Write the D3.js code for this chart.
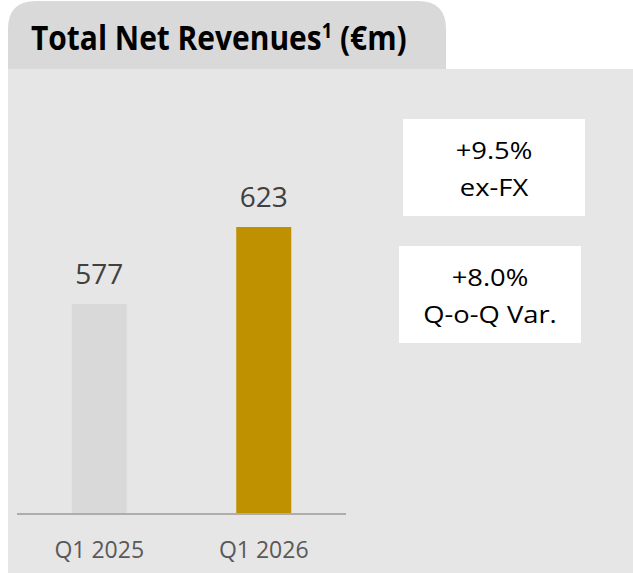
<!DOCTYPE html>
<html>
<head>
<meta charset="utf-8">
<script src="https://cdn.jsdelivr.net/npm/d3@7"></script>
<style>
  html, body { margin: 0; padding: 0; background: #ffffff; }
  svg { display: block; }
  text { font-family: "Open Sans", "Noto Sans", sans-serif; }
</style>
</head>
<body>
<div id="chart"></div>
<script>
const title = "Total Net Revenues";
const titleSup = "1";
const titleUnit = " (€m)";
const categories = ["Q1 2025", "Q1 2026"];
const values = [577, 623];
const barColors = ["#d9d9d9", "#bf9000"];
const boxTopLines = ["+9.5%", "+8.0%"];
const boxBottomLines = ["ex-FX", "Q-o-Q Var."];

const W = 633, H = 573;
const svg = d3.select("#chart").append("svg").attr("width", W).attr("height", H);

// Tab (rounded top corners)
const tx0 = 8, tx1 = 446, ty0 = 1, ty1 = 70, r = 28;
svg.append("path")
  .attr("d", `M${tx0},${ty1} L${tx0},${ty0 + r} Q${tx0},${ty0} ${tx0 + r},${ty0} L${tx1 - r},${ty0} Q${tx1},${ty0} ${tx1},${ty0 + r} L${tx1},${ty1} Z`)
  .attr("fill", "#d9d9d9");

// Panel
svg.append("rect").attr("x", 8).attr("y", 69).attr("width", 625).attr("height", 504).attr("fill", "#e6e6e6");

// Title (scaled horizontally to fit the tab like the original narrow font)
const tg = svg.append("g");
const t = tg.append("text").attr("x", 0).attr("y", 0)
  .attr("font-size", 34).attr("font-weight", 700).attr("fill", "#000");
t.append("tspan").text(title);
t.append("tspan").attr("font-size", 21).attr("dy", -12).text(titleSup);
t.append("tspan").attr("dy", 12).text(titleUnit);
const tw = t.node().getComputedTextLength();
tg.attr("transform", `translate(31,50) scale(${376 / tw},1)`);

// Scales
const x = d3.scaleBand().domain(categories).range([17, 346]).paddingInner(0.66).paddingOuter(0.33);
const bw = 55;
const xc = d => x(d) + x.bandwidth() / 2;
const y = d3.scaleLinear().domain([451.5, 623]).range([514, 227]);

// Bars
svg.selectAll("rect.bar").data(values).enter().append("rect")
  .attr("class", "bar")
  .attr("x", (d, i) => xc(categories[i]) - bw / 2)
  .attr("width", bw)
  .attr("y", d => y(d))
  .attr("height", d => y.range()[0] - y(d))
  .attr("fill", (d, i) => barColors[i]);

// Value labels
svg.selectAll("text.val").data(values).enter().append("text")
  .attr("class", "val")
  .attr("x", (d, i) => xc(categories[i]))
  .attr("y", d => y(d) - 20)
  .attr("text-anchor", "middle")
  .attr("font-size", 28).attr("fill", "#404040")
  .text(d => d);

// Axis
const axis = d3.axisBottom(x).tickSize(0).tickPadding(0);
const g = svg.append("g").attr("transform", "translate(0,514)").call(axis);
g.select(".domain").attr("stroke", "#b0acac").attr("stroke-width", 2).attr("d", "M17,0H346");
g.selectAll(".tick text")
  .attr("y", 44).attr("dy", 0)
  .attr("font-size", 23).attr("fill", "#595959")
  .attr("font-family", "'Open Sans', sans-serif");

// Boxes
const boxes = [{x: 403, y: 119}, {x: 399, y: 246}];
const bwid = 182, bh = 97;
boxes.forEach((b, i) => {
  svg.append("rect").attr("x", b.x).attr("y", b.y).attr("width", bwid).attr("height", bh).attr("fill", "#ffffff");
  svg.append("text").attr("transform", `translate(${b.x + bwid / 2},${b.y + 40}) scale(1.14,1)`)
    .attr("text-anchor", "middle").attr("font-size", 24).attr("fill", "#000").text(boxTopLines[i]);
  svg.append("text").attr("transform", `translate(${b.x + bwid / 2},${b.y + 77}) scale(1.14,1)`)
    .attr("text-anchor", "middle").attr("font-size", 24).attr("fill", "#000").text(boxBottomLines[i]);
});
</script>
</body>
</html>
